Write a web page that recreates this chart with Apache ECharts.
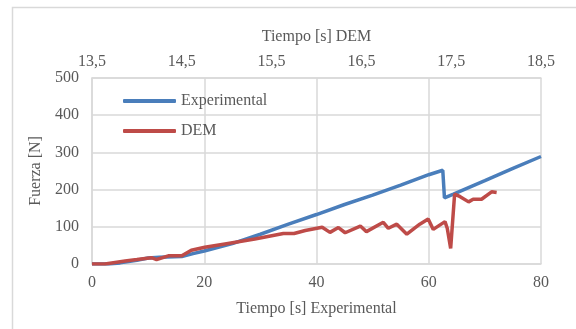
<!DOCTYPE html>
<html>
<head>
<meta charset="utf-8">
<script src="https://cdn.jsdelivr.net/npm/echarts@6/dist/echarts.min.js"></script>
<style>
  html, body { margin: 0; padding: 0; background: #fff; }
  #chart { width: 576px; height: 329px; }
</style>
</head>
<body>
<div id="chart"></div>
<script>
// tiempo experimental [s] y fuerza [N]
var expTime = [0, 3, 5, 8, 10, 12, 16, 18, 20, 25, 30, 35, 40, 45, 50, 55, 60, 62.5, 62.8, 64.4, 70, 75, 80];
var expForce = [0, 0, 3, 10, 16, 18, 20, 28, 35, 55, 80, 107, 133, 160, 185, 212, 240, 252, 178, 188, 224, 257, 289];

// tiempo DEM [s] y fuerza [N]
var demTime = [13.500, 13.644, 13.869, 14.000, 14.163, 14.219, 14.350, 14.500, 14.606, 14.756,
               14.981, 15.313, 15.631, 15.750, 15.875, 16.063, 16.150, 16.244, 16.319, 16.488,
               16.556, 16.744, 16.800, 16.894, 17.006, 17.150, 17.244, 17.300, 17.431, 17.456,
               17.494, 17.538, 17.600, 17.694, 17.744, 17.838, 17.950, 18.006];
var demForce = [0, 0, 8, 12, 17, 12, 22, 22, 37, 45,
                54, 67, 82, 82, 90, 99, 85, 98, 84, 102,
                87, 112, 96, 107, 80, 107, 121, 93, 114, 96,
                42, 188, 181, 167, 174, 174, 194, 192];

var demTicks = [13.5, 14.5, 15.5, 16.5, 17.5, 18.5];
var demStart = demTicks[0];

var textColor = '#595959';
var gridColor = '#d9d9d9';
var font = 'Liberation Serif';

var myChart = echarts.init(document.getElementById('chart'));

var expData = expTime.map(function (t, i) { return [t, expForce[i]]; });
var demData = demTime.map(function (t, i) { return [t - demStart, demForce[i]]; });

var option = {
    animation: false,
    backgroundColor: '#fff',
    textStyle: { fontFamily: font, color: textColor },
    graphic: [{
        type: 'rect',
        shape: { x: 12.5, y: 7.5, width: 700, height: 500 },
        style: { fill: 'none', stroke: gridColor, lineWidth: 1.5 },
        silent: true
    }],
    grid: { left: 92, right: 35, top: 78, bottom: 65 },
    legend: {
        left: 123, top: 93,
        padding: 0,
        orient: 'vertical',
        itemWidth: 53, itemHeight: 4, itemGap: 14,
        icon: 'roundRect',
        textStyle: { fontFamily: font, fontSize: 16, color: textColor },
        data: ['Experimental', 'DEM']
    },
    xAxis: [{
        type: 'value',
        min: 0, max: 80, interval: 20,
        name: 'Tiempo [s] Experimental',
        nameLocation: 'middle', nameGap: 37,
        nameTextStyle: { fontFamily: font, fontSize: 16, color: textColor },
        axisLine: { lineStyle: { color: gridColor, width: 1.5 } },
        axisTick: { show: false },
        axisLabel: { fontFamily: font, fontSize: 16, color: textColor, margin: 11 },
        splitLine: { lineStyle: { color: gridColor, width: 1.5 } }
    }, {
        type: 'value',
        position: 'top',
        min: 0, max: demTicks[demTicks.length - 1] - demStart, interval: 1,
        name: 'Tiempo [s] DEM',
        nameLocation: 'middle', nameGap: 33,
        nameTextStyle: { fontFamily: font, fontSize: 16, color: textColor },
        axisLine: { show: true, lineStyle: { color: gridColor, width: 1.5 } },
        axisTick: { show: false },
        axisLabel: {
            fontFamily: font, fontSize: 16, color: textColor, margin: 8,
            formatter: function (v) { return (v + demStart).toFixed(1).replace('.', ','); }
        },
        splitLine: { show: false }
    }],
    yAxis: {
        type: 'value',
        min: 0, max: 500, interval: 100,
        name: 'Fuerza [N]',
        nameLocation: 'middle', nameGap: 42,
        nameTextStyle: { fontFamily: font, fontSize: 16, color: textColor },
        axisLine: { show: true, lineStyle: { color: gridColor, width: 1.5 } },
        axisTick: { show: false },
        axisLabel: { fontFamily: font, fontSize: 16, color: textColor, margin: 13 },
        splitLine: { lineStyle: { color: gridColor, width: 1.5 } }
    },
    series: [{
        name: 'Experimental',
        type: 'line',
        xAxisIndex: 0,
        showSymbol: false,
        data: expData,
        itemStyle: { color: '#4a7ebb' },
        lineStyle: { color: '#4a7ebb', width: 3.5 }
    }, {
        name: 'DEM',
        type: 'line',
        xAxisIndex: 1,
        showSymbol: false,
        data: demData,
        itemStyle: { color: '#be4b48' },
        lineStyle: { color: '#be4b48', width: 3.5 }
    }]
};
myChart.setOption(option);
</script>
</body>
</html>
